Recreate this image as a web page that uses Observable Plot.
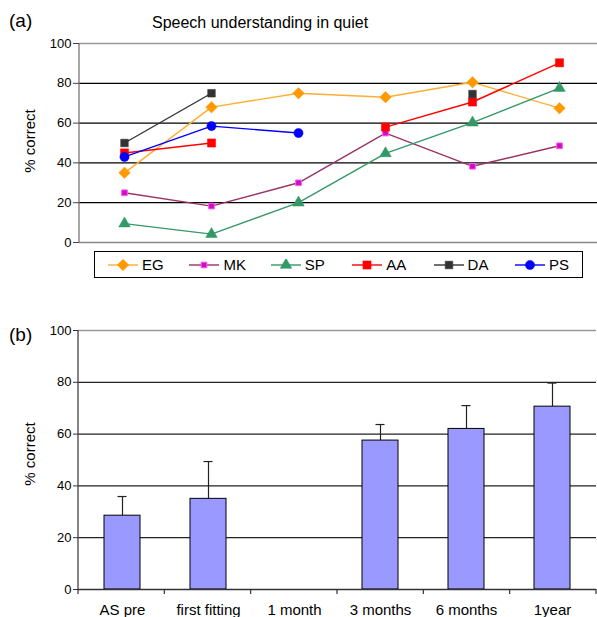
<!DOCTYPE html>
<html>
<head>
<meta charset="utf-8">
<script src="https://cdn.jsdelivr.net/npm/d3@7"></script>
<script src="https://cdn.jsdelivr.net/npm/@observablehq/plot@0.6"></script>
<style>
  html, body { margin: 0; padding: 0; background: #fff; }
  body { width: 597px; height: 617px; position: relative; overflow: hidden;
         font-family: "Liberation Sans", Arial, Helvetica, sans-serif; color: #000; }
  .abs { position: absolute; white-space: nowrap; line-height: 1; }
  .ylab { position: absolute; font-size: 15px; white-space: nowrap; transform: translate(-50%, -50%) rotate(-90deg); }
  #top, #bottom { position: absolute; left: 0; }
  #top { top: 0; }
  #bottom { top: 300px; }
  #legend { position: absolute; left: 94px; top: 251px; width: 487px; height: 25px; border: 1px solid #000; background: #fff; }
  .item { position: absolute; top: 0; height: 25px; display: flex; align-items: center; font-size: 15px; }
  .item svg { margin-right: 4px; }
</style>
</head>
<body>
<div id="top"></div>
<div id="bottom"></div>
<div class="abs" style="left:9px; top:11px; font-size:19px;">(a)</div>
<div class="abs" style="left:152px; top:15px; font-size:16px;">Speech understanding in quiet</div>
<div class="ylab" style="left:29px; top:141px;">% correct</div>
<div class="abs" style="left:9px; top:325px; font-size:19px;">(b)</div>
<div class="ylab" style="left:29px; top:454px;">% correct</div>
<div id="legend"></div>
<script>
// ---- data ----
const categories = ["AS pre", "first fitting", "1 month", "3 months", "6 months", "1year"];
const seriesNames = ["EG", "MK", "SP", "AA", "DA", "PS"];
const EG = [35, 68, 75, 73, 80.5, 67.5];
const MK = [25, 18.3, 30, 55, 38.3, 48.6];
const SP = [9.5, 4.2, 20, 44.8, 60.2, 77.6];
const AA = [45, 50, null, 58, 70.6, 90.3];
const DA = [50, 75, null, null, 74.6, null];
const PS = [43, 58.5, 55, null, null, null];
const meanScores = [28.5, 35, null, 57.5, 62, 70.6];
const errorValues = [7.4, 14.4, null, 6.2, 9, 9.1];
const yTicks = [0, 20, 40, 60, 80, 100];
const gridTicks = [20, 40, 60, 80];

const seriesValues = {EG, MK, SP, AA, DA, PS};
const styles = {
  EG: {line: "#ffad33", fill: "#ff9900", stroke: "#ff9900", symbol: "diamond2", r: 5.2},
  MK: {line: "#993366", fill: "#cc11bb", stroke: "#ff55ff", symbol: "square", r: 3.2},
  SP: {line: "#339966", fill: "#339966", stroke: "#339966", symbol: "triangle", r: 4.3},
  AA: {line: "#ff0000", fill: "#ff0000", stroke: "#ff0000", symbol: "square", r: 4.6},
  DA: {line: "#333333", fill: "#333333", stroke: "#333333", symbol: "square", r: 4.3},
  PS: {line: "#0000ff", fill: "#0000ff", stroke: "#0000ff", symbol: "circle", r: 4.6}
};

const longData = seriesNames.flatMap(name =>
  categories.map((c, i) => ({series: name, time: c, value: seriesValues[name][i]})));

const font = '"Liberation Sans", Arial, Helvetica, sans-serif';

// ---- top chart ----
const leftAxisLine = (color) => (index, scales, values, dim) => {
  const g = d3.create("svg:g");
  g.append("line")
    .attr("x1", dim.marginLeft).attr("x2", dim.marginLeft)
    .attr("y1", scales.y(0)).attr("y2", scales.y(100))
    .attr("stroke", color).attr("stroke-width", 1.3);
  return g.node();
};

const topMarks = [
  Plot.ruleY(gridTicks, {stroke: "#000", strokeWidth: 1.2}),
  Plot.ruleY([100], {stroke: "#999", strokeWidth: 1.3}),
  Plot.ruleY([0], {stroke: "#888", strokeWidth: 1.3}),
  leftAxisLine("#777"),
  Plot.axisY({ticks: yTicks, tickSize: 6, tickPadding: 2, fontSize: 13, label: null, stroke: "#444"})
];
for (const name of seriesNames) {
  const s = styles[name];
  const d = longData.filter(r => r.series === name);
  topMarks.push(Plot.line(d, {x: "time", y: "value", stroke: s.line, strokeWidth: 1.4}));
}
for (const name of seriesNames) {
  const s = styles[name];
  const d = longData.filter(r => r.series === name && r.value != null);
  topMarks.push(Plot.dot(d, {x: "time", y: "value", symbol: () => s.symbol, fill: s.fill, stroke: s.stroke,
    strokeWidth: name === "MK" ? 1 : 0.5, r: s.r}));
}
const topPlot = Plot.plot({
  width: 597, height: 250,
  marginLeft: 79, marginRight: 0, marginTop: 43, marginBottom: 8,
  style: {fontFamily: font, background: "transparent", overflow: "visible"},
  x: {type: "point", domain: categories, range: [79, 604], padding: 0.5, axis: null},
  y: {domain: [0, 100]},
  symbol: {type: "identity"},
  marks: topMarks
});
document.getElementById("top").append(topPlot);

// ---- legend ----
const legend = d3.select("#legend");
seriesNames.forEach((name, i) => {
  const s = styles[name];
  const item = legend.append("div").attr("class", "item").style("left", (13 + i * 81.4) + "px");
  const svg = item.append("svg").attr("width", 30).attr("height", 12);
  svg.append("line").attr("x1", 0).attr("x2", 30).attr("y1", 6).attr("y2", 6)
    .attr("stroke", s.line).attr("stroke-width", 1.4);
  const symMap = {diamond2: d3.symbolDiamond2, square: d3.symbolSquare, triangle: d3.symbolTriangle, circle: d3.symbolCircle};
  svg.append("path").attr("transform", "translate(15,6)")
    .attr("d", d3.symbol(symMap[s.symbol], Math.PI * s.r * s.r)())
    .attr("fill", s.fill).attr("stroke", s.stroke).attr("stroke-width", name === "MK" ? 1 : 0.5);
  item.append("span").text(name);
});

// ---- bottom chart ----
const barData = categories.map((c, i) => ({time: c, mean: meanScores[i], err: errorValues[i]}))
  .filter(d => d.mean != null);

const bandTicks = (index, scales, values, dim) => {
  const g = d3.create("svg:g");
  const x0 = dim.marginLeft, x1 = dim.width - dim.marginRight;
  const step = (x1 - x0) / categories.length;
  const y0 = scales.y(0);
  for (let k = 0; k <= categories.length; k++) {
    g.append("line").attr("x1", x0 + k * step).attr("x2", x0 + k * step)
      .attr("y1", y0).attr("y2", y0 + 5).attr("stroke", "#333").attr("stroke-width", 1.2);
  }
  return g.node();
};

const bottomPlot = Plot.plot({
  width: 597, height: 317,
  marginLeft: 78, marginRight: 1, marginTop: 30, marginBottom: 28,
  style: {fontFamily: font, background: "transparent", overflow: "visible"},
  x: {type: "band", domain: categories, paddingInner: 0.58, paddingOuter: 0.29},
  y: {domain: [0, 100]},
  marks: [
    Plot.ruleY(gridTicks, {stroke: "#222", strokeWidth: 1.2}),
    Plot.ruleY([100], {stroke: "#999", strokeWidth: 1.3}),
    Plot.ruleX(barData, {x: "time", y1: "mean", y2: d => d.mean + d.err, stroke: "#222", strokeWidth: 1.2}),
    Plot.tickY(barData, {x: "time", y: d => d.mean + d.err, stroke: "#222", strokeWidth: 1.2, insetLeft: 13.5, insetRight: 13.5}),
    Plot.barY(barData, {x: "time", y: "mean", fill: "#9999ff", stroke: "#000", strokeWidth: 1}),
    Plot.ruleY([0], {stroke: "#333", strokeWidth: 1.3}),
    leftAxisLine("#444"),
    bandTicks,
    Plot.axisY({ticks: yTicks, tickSize: 5, tickPadding: 2, fontSize: 13, label: null, stroke: "#333"}),
    Plot.axisX({tickSize: 0, tickPadding: 15, fontSize: 15, label: null})
  ]
});
document.getElementById("bottom").append(bottomPlot);
</script>
</body>
</html>
